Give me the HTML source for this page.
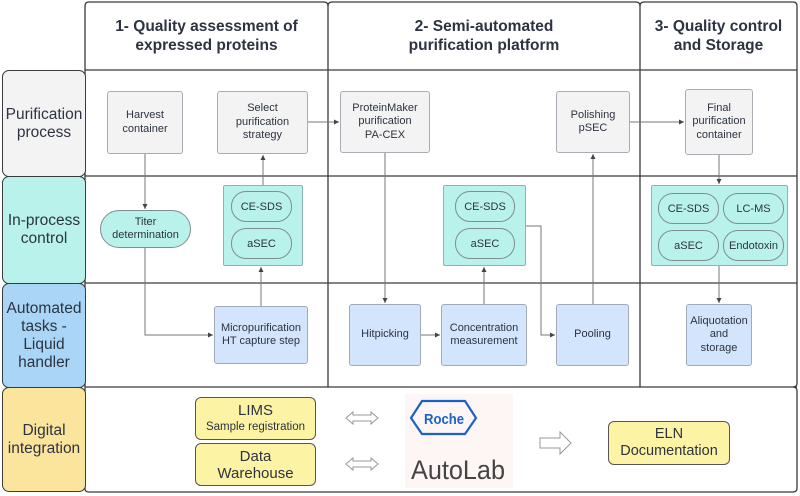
<!DOCTYPE html>
<html><head><meta charset="utf-8"><style>
body{margin:0;width:800px;height:496px;background:#fff;font-family:"Liberation Sans",sans-serif;color:#2d3340;overflow:hidden;position:relative}
.a{position:absolute;box-sizing:border-box;display:flex;align-items:center;justify-content:center;text-align:center}
.lab{border:1.3px solid #3a3a3a;border-radius:7px;font-size:15.5px;line-height:18px}
.hd{font-weight:bold;font-size:15.5px;line-height:19px}
.g{background:#f3f3f4;border:1px solid #a9acb2;border-radius:3px;font-size:11px;line-height:13.5px}
.b{background:#d2e5fd;border:1px solid #a0aabb;border-radius:3px;font-size:11px;line-height:13.5px}
.c{background:#b8f2ea;border:1px solid #8fb3b0;border-radius:2px}
.p{background:#b8f2ea;border:1px solid #7f8f8f;border-radius:15px;font-size:11px}
.y{background:#fdf3a5;border:1px solid #555;border-radius:6px}
</style></head><body>
<svg width="800" height="496" style="position:absolute;left:0;top:0">
<defs><marker id="m" markerWidth="6" markerHeight="6" refX="5" refY="3" orient="auto"><path d="M0,0.5 L5,3 L0,5.5z" fill="#444"/></marker></defs>
<g fill="none" stroke="#3a3a3a" stroke-width="1.3">
<path d="M85,70 V6 Q85,2 89,2 H324 Q328,2 328,6 V387"/>
<path d="M328,6 Q328,2 332,2 H636 Q640,2 640,6 V387"/>
<path d="M640,6 Q640,2 644,2 H793 Q797,2 797,6 V383 Q797,387 793,387"/>
<path d="M85,70 H797 M85,176 H797 M85,283 H797 M85,387 H797"/>
<path d="M85,387 V489 Q85,492 89,492 H793 Q797,492 797,488 V391 Q797,387 793,387"/>
<path d="M85,70 V387"/>
</g>
<g fill="none" stroke="#777" stroke-width="1" marker-end="url(#m)">
<path d="M145,154 V209"/>
<path d="M145,248 V335 H213"/>
<path d="M261,306 V267"/>
<path d="M263,185 V155"/>
<path d="M308,122 H339"/>
<path d="M385,153 V303"/>
<path d="M421,335 H440"/>
<path d="M484,304 V267"/>
<path d="M526,226 H541 V335 H555"/>
<path d="M593,304 V154"/>
<path d="M630,122 H684"/>
<path d="M719,155 V184"/>
<path d="M719,266 V303"/>
</g>
<g fill="#fff" stroke="#999" stroke-width="1">
<path d="M346,418 l7,-6 v3 h18 v-3 l7,6 l-7,6 v-3 h-18 v3z"/>
<path d="M346,464 l7,-6 v3 h18 v-3 l7,6 l-7,6 v-3 h-18 v3z"/>
<path d="M540,438 h20 v-6 l11,11 l-11,11 v-6 h-20z"/>
</g>
<rect x="405" y="394" width="108" height="94" fill="#fdf6f4"/>
<path d="M411,418 L422,401 H465 L476,418 L465,434 H422Z" fill="none" stroke="#1a62c6" stroke-width="2.2"/>
<text x="444" y="424" font-family="Liberation Sans" font-weight="bold" font-size="15" fill="#1a62c6" text-anchor="middle" textLength="40" lengthAdjust="spacingAndGlyphs">Roche</text>
<text x="411" y="479" font-family="Liberation Sans" font-size="27" fill="#444" textLength="94" lengthAdjust="spacingAndGlyphs">AutoLab</text>
</svg>
<div class="a hd" style="left:85px;top:2px;width:243px;height:68px">1- Quality assessment of<br>expressed proteins</div>
<div class="a hd" style="left:328px;top:2px;width:312px;height:68px">2- Semi-automated<br>purification platform</div>
<div class="a hd" style="left:640px;top:2px;width:157px;height:68px">3- Quality control<br>and Storage</div>
<div class="a lab" style="left:2px;top:70px;width:84px;height:107px;background:#f3f3f4">Purification<br>process</div>
<div class="a lab" style="left:2px;top:176px;width:84px;height:108px;background:#b8f2ea">In-process<br>control</div>
<div class="a lab" style="left:2px;top:283px;width:84px;height:105px;background:#a9d5f7">Automated<br>tasks -<br>Liquid<br>handler</div>
<div class="a lab" style="left:2px;top:387px;width:84px;height:105px;background:#fbe49c">Digital<br>integration</div>
<div class="a g" style="left:107px;top:91px;width:76px;height:63px">Harvest<br>container</div>
<div class="a g" style="left:217px;top:91px;width:91px;height:63px">Select<br>purification<br>strategy</div>
<div class="a g" style="left:340px;top:91px;width:90px;height:62px">ProteinMaker<br>purification<br>PA-CEX</div>
<div class="a g" style="left:556px;top:91px;width:74px;height:62px">Polishing<br>pSEC</div>
<div class="a g" style="left:685px;top:89px;width:68px;height:66px">Final<br>purification<br>container</div>
<div class="a p" style="left:100px;top:210px;width:91px;height:38px;border-radius:19px;line-height:13px">Titer<br>determination</div>
<div class="a c" style="left:223px;top:185px;width:80px;height:81px"></div>
<div class="a p" style="left:231px;top:191px;width:61px;height:31px">CE-SDS</div>
<div class="a p" style="left:231px;top:228px;width:61px;height:31px">aSEC</div>
<div class="a c" style="left:443px;top:185px;width:83px;height:81px"></div>
<div class="a p" style="left:455px;top:191px;width:60px;height:31px">CE-SDS</div>
<div class="a p" style="left:455px;top:228px;width:60px;height:31px">aSEC</div>
<div class="a c" style="left:651px;top:185px;width:137px;height:81px"></div>
<div class="a p" style="left:658px;top:193px;width:61px;height:31px">CE-SDS</div>
<div class="a p" style="left:723px;top:193px;width:61px;height:31px">LC-MS</div>
<div class="a p" style="left:658px;top:230px;width:61px;height:31px">aSEC</div>
<div class="a p" style="left:723px;top:230px;width:61px;height:31px">Endotoxin</div>
<div class="a b" style="left:214px;top:306px;width:94px;height:58px">Micropurification<br>HT capture step</div>
<div class="a b" style="left:349px;top:304px;width:72px;height:62px">Hitpicking</div>
<div class="a b" style="left:441px;top:304px;width:86px;height:62px">Concentration<br>measurement</div>
<div class="a b" style="left:556px;top:304px;width:73px;height:62px">Pooling</div>
<div class="a b" style="left:686px;top:304px;width:66px;height:62px">Aliquotation<br>and<br>storage</div>
<div class="a y" style="left:195px;top:397px;width:121px;height:43px;flex-direction:column;line-height:17px"><span style="font-size:15px">LIMS</span><span style="font-size:11.5px">Sample registration</span></div>
<div class="a y" style="left:195px;top:443px;width:121px;height:43px;font-size:15px;line-height:17px">Data<br>Warehouse</div>
<div class="a y" style="left:608px;top:421px;width:122px;height:44px;font-size:14.5px;line-height:17px">ELN<br>Documentation</div>
</body></html>
